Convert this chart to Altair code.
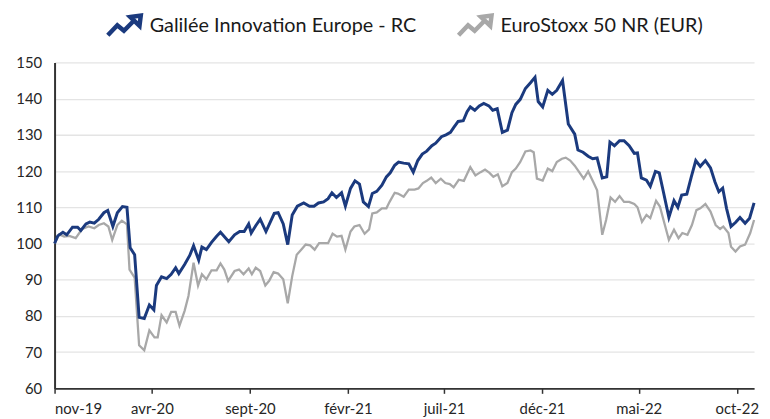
import altair as alt
import pandas as pd

series_names = ["Galilée Innovation Europe - RC", "EuroStoxx 50 NR (EUR)"]
series_colors = ["#1b3a7e", "#a8a8a8"]

blue_dates = [
    "2019-11-01", "2019-11-06", "2019-11-14", "2019-11-20", "2019-11-29", "2019-12-07", "2019-12-12", "2019-12-20", "2019-12-26",
    "2020-01-02", "2020-01-09", "2020-01-17", "2020-01-23", "2020-01-31", "2020-02-07", "2020-02-15", "2020-02-22", "2020-02-27",
    "2020-03-05", "2020-03-12", "2020-03-20", "2020-03-28", "2020-04-04", "2020-04-08", "2020-04-16", "2020-04-24", "2020-05-01",
    "2020-05-08", "2020-05-13", "2020-05-22", "2020-05-30", "2020-06-05", "2020-06-13", "2020-06-18", "2020-06-25", "2020-07-03",
    "2020-07-11", "2020-07-17", "2020-07-30", "2020-08-08", "2020-08-16", "2020-08-23", "2020-08-30", "2020-09-03", "2020-09-10",
    "2020-09-17", "2020-09-26", "2020-10-02", "2020-10-09", "2020-10-15", "2020-10-23", "2020-10-30", "2020-11-06", "2020-11-14",
    "2020-11-24", "2020-12-03", "2020-12-10", "2020-12-17", "2020-12-25", "2021-01-01", "2021-01-07", "2021-01-14", "2021-01-22",
    "2021-01-28", "2021-02-05", "2021-02-12", "2021-02-19", "2021-02-25", "2021-03-05", "2021-03-11", "2021-03-18", "2021-03-26",
    "2021-04-02", "2021-04-08", "2021-04-15", "2021-04-21", "2021-04-29", "2021-05-07", "2021-05-14", "2021-05-21", "2021-05-28",
    "2021-06-04", "2021-06-12", "2021-06-18", "2021-06-27", "2021-07-04", "2021-07-11", "2021-07-16", "2021-07-23", "2021-07-31",
    "2021-08-06", "2021-08-11", "2021-08-18", "2021-08-25", "2021-09-01", "2021-09-09", "2021-09-15", "2021-09-22", "2021-09-30",
    "2021-10-08", "2021-10-15", "2021-10-21", "2021-10-28", "2021-11-05", "2021-11-13", "2021-11-20", "2021-11-25", "2021-12-02",
    "2021-12-10", "2021-12-17", "2021-12-24", "2022-01-02", "2022-01-11", "2022-01-21", "2022-01-26", "2022-02-03", "2022-02-11",
    "2022-02-18", "2022-02-25", "2022-03-05", "2022-03-12", "2022-03-17", "2022-03-24", "2022-04-01", "2022-04-08", "2022-04-16",
    "2022-04-24", "2022-04-29", "2022-05-05", "2022-05-13", "2022-05-19", "2022-05-27", "2022-06-02", "2022-06-09", "2022-06-17",
    "2022-06-25", "2022-07-01", "2022-07-07", "2022-07-15", "2022-07-22", "2022-07-29", "2022-08-05", "2022-08-13", "2022-08-21",
    "2022-08-28", "2022-09-03", "2022-09-09", "2022-09-15", "2022-09-22", "2022-09-29", "2022-10-06", "2022-10-14", "2022-10-21",
    "2022-10-28",
]
blue_values = [
    100, 102.1, 103.1, 102.4, 104.5, 104.5, 103.6, 105.4, 105.9,
    105.6, 106.7, 108.5, 109.1, 104.7, 108.5, 110.2, 110, 98.8,
    96.9, 79.6, 79.3, 83, 81.7, 88.4, 90.8, 90.3, 91.5,
    93.3, 91.7, 94.2, 96.7, 99.4, 95.4, 99, 98.3, 100.3,
    102, 103.1, 100.5, 102.4, 103.3, 103.3, 105.4, 102.9, 104.9,
    106.7, 103.3, 105.6, 108.3, 108.5, 105.4, 99.7, 107.9, 110.3,
    111.2, 110.3, 110.3, 111.2, 111.5, 112.4, 114, 112.7, 114,
    110.3, 115.2, 117.3, 116.4, 111.5, 110.2, 113.8, 114.4, 116.1,
    118.4, 119.5, 121.6, 122.5, 122.2, 122, 119.7, 122.9, 124.7,
    125.5, 127, 127.7, 129.5, 130, 130.7, 132, 133.7, 133.9,
    136.4, 137.7, 136.8, 138, 138.7, 138, 136.8, 137.2, 130.7,
    131.3, 136.1, 138.4, 139.8, 142.8, 144.4, 145.9, 139.2, 137.7,
    142.3, 141.2, 142.3, 145, 133, 130.2, 125.8, 125.2, 124.1,
    123.4, 123.6, 118.1, 118.4, 128, 127, 128.4, 128.4, 127,
    124.9, 125, 118.1, 117.5, 115.8, 119.9, 119.5, 113.8, 107.2,
    111.8, 110, 113.4, 113.6, 118.4, 122.9, 121.3, 122.9, 120.9,
    117, 114.3, 115.3, 109.7, 104.7, 105.8, 107.2, 105.6, 107,
    111.2,
]

gray_dates = [
    "2019-11-01", "2019-11-08", "2019-11-16", "2019-11-24", "2019-12-04", "2019-12-14", "2019-12-24", "2020-01-02", "2020-01-09",
    "2020-01-17", "2020-01-24", "2020-01-30", "2020-02-07", "2020-02-14", "2020-02-22", "2020-02-26", "2020-03-05", "2020-03-12",
    "2020-03-20", "2020-03-28", "2020-04-05", "2020-04-10", "2020-04-16", "2020-04-24", "2020-05-01", "2020-05-08", "2020-05-14",
    "2020-05-22", "2020-05-28", "2020-06-05", "2020-06-12", "2020-06-18", "2020-06-25", "2020-07-03", "2020-07-11", "2020-07-17",
    "2020-07-23", "2020-07-29", "2020-08-08", "2020-08-15", "2020-08-22", "2020-08-30", "2020-09-04", "2020-09-10", "2020-09-17",
    "2020-09-25", "2020-10-01", "2020-10-08", "2020-10-15", "2020-10-23", "2020-10-30", "2020-11-06", "2020-11-13", "2020-11-20",
    "2020-11-27", "2020-12-04", "2020-12-11", "2020-12-18", "2020-12-25", "2021-01-01", "2021-01-08", "2021-01-15", "2021-01-22",
    "2021-01-28", "2021-02-05", "2021-02-11", "2021-02-19", "2021-02-27", "2021-03-06", "2021-03-11", "2021-03-18", "2021-03-26",
    "2021-04-02", "2021-04-07", "2021-04-15", "2021-04-20", "2021-04-29", "2021-05-07", "2021-05-16", "2021-05-22", "2021-05-29",
    "2021-06-04", "2021-06-11", "2021-06-18", "2021-06-26", "2021-07-03", "2021-07-10", "2021-07-16", "2021-07-24", "2021-08-01",
    "2021-08-11", "2021-08-19", "2021-08-27", "2021-09-03", "2021-09-10", "2021-09-16", "2021-09-23", "2021-09-30", "2021-10-08",
    "2021-10-15", "2021-10-21", "2021-10-28", "2021-11-05", "2021-11-13", "2021-11-18", "2021-11-23", "2021-12-02", "2021-12-10",
    "2021-12-17", "2021-12-24", "2022-01-01", "2022-01-07", "2022-01-14", "2022-01-21", "2022-01-28", "2022-02-04", "2022-02-11",
    "2022-02-19", "2022-02-25", "2022-03-05", "2022-03-11", "2022-03-18", "2022-03-25", "2022-04-01", "2022-04-08", "2022-04-16",
    "2022-04-24", "2022-04-29", "2022-05-06", "2022-05-13", "2022-05-19", "2022-05-28", "2022-06-03", "2022-06-10", "2022-06-17",
    "2022-06-25", "2022-07-02", "2022-07-08", "2022-07-16", "2022-07-23", "2022-07-30", "2022-08-05", "2022-08-13", "2022-08-21",
    "2022-08-29", "2022-09-05", "2022-09-10", "2022-09-18", "2022-09-22", "2022-09-29", "2022-10-06", "2022-10-14", "2022-10-22",
    "2022-10-28",
]
gray_values = [
    100, 102.5, 101.9, 102.1, 101.5, 104, 104.7, 104.2, 105.1,
    105.6, 104.7, 101, 105.1, 106.3, 105.3, 92.8, 90.6, 71.9,
    70.5, 76, 74.1, 74.1, 80.2, 78.2, 81.1, 81.1, 77.3,
    81.4, 85.5, 94.7, 88.4, 91.5, 90.1, 92.6, 92.6, 94.5,
    92.8, 89.7, 92.4, 92.8, 91.5, 93.1, 91.5, 93.3, 92.4,
    88.4, 89.7, 92.1, 91.7, 90.1, 83.5, 91, 96.9, 98.3,
    99.7, 99.5, 98.3, 100.1, 100.1, 100.1, 102.7, 101.9, 102.1,
    98.3, 103.3, 104.7, 105.1, 102.7, 103.9, 108.3, 108.6, 109.7,
    109.7, 111.5, 114, 113.8, 112.9, 114.9, 114.9, 115.2, 116.7,
    117.3, 118.2, 116.7, 117.9, 116.7, 116.4, 115.5, 117.6, 117.3,
    121.1, 118.8, 119.7, 120.4, 119.5, 118.4, 119.1, 115.8, 116.7,
    119.7, 120.7, 122.5, 125.4, 125.7, 125.2, 117.9, 117.4, 120.7,
    120, 122.5, 123.4, 123.7, 122.9, 121.5, 119.7, 117.9, 119.9,
    117, 114.7, 102.4, 106.5, 112.7, 111.5, 113.1, 111.5, 111.5,
    110.9, 110, 106, 107.9, 107, 111.8, 110.2, 105.6, 101,
    103.8, 101.5, 102.9, 102.4, 105.1, 109.2, 109.7, 110.9, 108.8,
    105.1, 104, 104.7, 102.9, 99.1, 97.8, 99.2, 99.7, 102.9,
    106.5,
]

tick_dates = ["2019-11-01", "2020-04-01", "2020-09-01", "2021-02-01",
              "2021-07-01", "2021-12-01", "2022-05-01", "2022-10-01"]
tick_labels = ["nov-19", "avr-20", "sept-20", "févr-21",
               "juil-21", "déc-21", "mai-22", "oct-22"]
y_ticks = [60, 70, 80, 90, 100, 110, 120, 130, 140, 150]
x_start, x_end = "2019-11-01", "2022-10-28"

df = pd.concat([
    pd.DataFrame({"date": blue_dates, "value": blue_values, "series": series_names[0]}),
    pd.DataFrame({"date": gray_dates, "value": gray_values, "series": series_names[1]}),
], ignore_index=True)


def dt(s):
    t = pd.Timestamp(s)
    return alt.DateTime(year=t.year, month=t.month, date=t.day, utc=True)


def ms(s):
    return int(pd.Timestamp(s, tz="UTC").value // 10**6)


label_expr = "''"
for d, lab in reversed(list(zip(tick_dates, tick_labels))):
    label_expr = f"datum.value == {ms(d)} ? '{lab}' : ({label_expr})"

FONT = "Lato"
arrow_path = "M-0.88,0.5L-0.36,-0.05L0,0.25L0.5,-0.25M0.35,-0.5L0.92,-0.58L0.85,-0.02Z"

base = alt.Chart(df).encode(
    x=alt.X("date:T",
            scale=alt.Scale(type="utc", domain=[dt(x_start), dt(x_end)], nice=False),
            axis=alt.Axis(values=[dt(d) for d in tick_dates], labelExpr=label_expr,
                          title=None, grid=False, labelFont=FONT, labelFontSize=15,
                          labelColor="#262626", tickSize=5, tickWidth=1.5, tickColor="#333333",
                          domainColor="#333333", domainWidth=2, labelPadding=8)),
    y=alt.Y("value:Q",
            scale=alt.Scale(domain=[60, 150], nice=False, zero=False),
            axis=alt.Axis(values=y_ticks, title=None, grid=True, gridColor="#e4e4e4",
                          gridWidth=1.3, ticks=False, tickSize=0, labelFont=FONT,
                          labelFontSize=15, labelColor="#262626", labelPadding=13,
                          domainColor="#333333", domainWidth=2)),
    color=alt.Color("series:N",
                    scale=alt.Scale(domain=series_names, range=series_colors),
                    legend=alt.Legend(title=None, orient="none", legendX=49, legendY=-58,
                                      direction="horizontal", labelFont=FONT, labelFontSize=20,
                                      labelColor="#1a1a1a", labelOffset=5, columnPadding=32,
                                      padding=0, symbolType=arrow_path, symbolSize=1369,
                                      symbolStrokeWidth=4.5, labelLimit=600)),
)

gray_line = base.transform_filter(alt.datum.series == series_names[1]).mark_line(strokeWidth=2.3)
blue_line = base.transform_filter(alt.datum.series == series_names[0]).mark_line(strokeWidth=3)

chart = alt.layer(gray_line, blue_line).properties(
    width=706, height=329,
    padding={"left": 47, "top": 53, "right": 8, "bottom": 30},
    autosize=alt.AutoSizeParams(type="none"),
    background="white",
).configure_view(stroke=None)

chart.save("out.html", embed_options={"renderer": "svg", "actions": False})
